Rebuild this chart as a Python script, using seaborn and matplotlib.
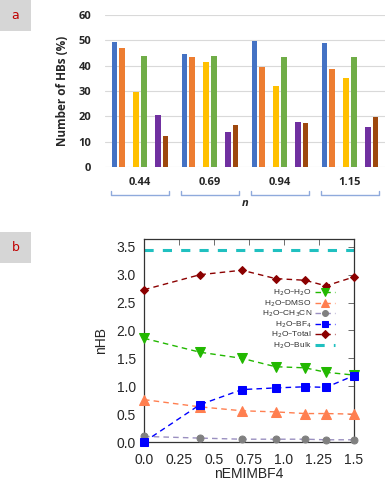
import numpy as np
import pandas as pd
import seaborn as sns
import matplotlib.pyplot as plt
from matplotlib.patches import Rectangle
import matplotlib.transforms as mtransforms

# panel a data
groups = ["0.44", "0.69", "0.94", "1.15"]
series = ["s1", "s2", "s3", "s4", "s5", "s6", "s7", "s8"]
s1 = [49.5, 44.6, 49.8, 48.8]
s2 = [47.1, 43.4, 39.3, 38.6]
s3 = [np.nan, np.nan, np.nan, np.nan]
s4 = [29.7, 41.4, 31.8, 35.3]
s5 = [43.8, 44.0, 43.5, 43.4]
s6 = [np.nan, np.nan, np.nan, np.nan]
s7 = [20.4, 13.7, 17.7, 15.6]
s8 = [12.4, 16.4, 17.3, 19.8]
bar_colors = ["#4472C4", "#ED7D31", "#A5A5A5", "#FFC000", "#70AD47", "#5B9BD5", "#7030A0", "#9E480E"]

# panel b data
n_emim = [0.0, 0.4, 0.7, 0.94, 1.15, 1.3, 1.5]
hb_h2o = [1.86, 1.61, 1.50, 1.35, 1.33, 1.25, 1.20]
hb_dmso = [0.76, 0.63, 0.56, 0.54, 0.51, 0.51, 0.50]
hb_ch3cn = [0.10, 0.07, 0.05, 0.05, 0.05, 0.04, 0.04]
hb_bf4 = [0.0, 0.67, 0.94, 0.97, 0.99, 0.98, 1.19]
hb_total = [2.73, 3.00, 3.08, 2.93, 2.90, 2.80, 2.96]
hb_bulk = [3.45] * len(n_emim)

sns.set_theme(style="white")
plt.rcParams['font.family'] = ['DejaVu Sans']

W, H = 387, 482
fig = plt.figure(figsize=(W / 100, H / 100), dpi=100)

def box(x0, y0, x1, y1):
    return [x0 / W, 1 - y1 / H, (x1 - x0) / W, (y1 - y0) / H]

# ---- panel a ----
ax1 = fig.add_axes(box(105, 15, 385, 167))
vals = [s1, s2, s3, s4, s5, s6, s7, s8]
df = pd.DataFrame({
    "group": [g for s in vals for g in groups],
    "series": [name for name, s in zip(series, vals) for _ in s],
    "value": [v for s in vals for v in s],
})
sns.barplot(data=df, x="group", y="value", hue="series", order=groups,
            hue_order=series, palette=bar_colors, width=0.83, gap=0.2,
            linewidth=0, saturation=1, legend=False, ax=ax1)
ax1.set_ylim(0, 60)
ax1.set_yticks(range(0, 61, 10))
ax1.set_xlim(-0.5, 3.5)
ax1.grid(axis="y", color="#d9d9d9", linewidth=0.8)
ax1.set_axisbelow(True)
for sp in ax1.spines.values():
    sp.set_visible(False)
ax1.tick_params(axis="both", length=0, labelsize=8)
ax1.tick_params(axis="x", pad=7)
ax1.tick_params(axis="y", pad=10)
for lab in ax1.get_xticklabels() + ax1.get_yticklabels():
    lab.set_fontweight("bold")
    lab.set_family("Open Sans")
ax1.set_xlabel("")
ax1.set_ylabel("Number of HBs (%)", fontsize=8.5, fontweight="bold",
               family="Open Sans", labelpad=7)

trans = mtransforms.blended_transform_factory(ax1.transData, ax1.transAxes)
yb = -(195 - 167) / 152
yt = -(191 - 167) / 152
for i in range(len(groups)):
    xl, xr = i - 0.41, i + 0.41
    ax1.plot([xl, xl, xr, xr], [yt, yb, yb, yt], color="#8FAADC",
             linewidth=1.0, transform=trans, clip_on=False)
fig.text(245 / W, 1 - 204 / H, "n", fontsize=8, fontweight="bold",
         fontstyle="italic", family="Open Sans", ha="center", va="center")

# ---- panel b ----
ax2 = fig.add_axes(box(144, 239, 354, 442))
dash = (0, (4, 3))
specs = [
    ("H$_2$O\u2013H$_2$O", hb_h2o, "#22B800", "v", 7),
    ("H$_2$O\u2013DMSO", hb_dmso, "#FF7F50", "^", 7),
    ("H$_2$O\u2013CH$_3$CN", hb_ch3cn, "#808080", "o", 5),
    ("H$_2$O\u2013BF$_4$", hb_bf4, "#0000FF", "s", 5.5),
    ("H$_2$O\u2013Total", hb_total, "#8B0000", "D", 4.5),
]
for label, y, c, m, ms in specs:
    lc = "#9A8FC0" if m == "o" else c
    sns.lineplot(x=n_emim, y=y, ax=ax2, color=lc, linestyle=dash,
                 linewidth=1.0, marker=m, markersize=ms,
                 markerfacecolor=c, markeredgecolor=c, label=label,
                 clip_on=False, zorder=3)
sns.lineplot(x=n_emim, y=hb_bulk, ax=ax2, color="#20C0C0",
             linestyle=(0, (3, 3)), linewidth=2.2, label="H$_2$O\u2013Bulk")

ax2.set_xlim(0, 1.5)
ax2.set_ylim(0, 3.64)
ax2.set_xticks([0, 0.25, 0.5, 0.75, 1.0, 1.25, 1.5])
ax2.set_xticklabels(["0.0", "0.25", "0.5", "0.75", "1.0", "1.25", "1.5"])
ax2.set_yticks(np.arange(0, 3.51, 0.5))
ax2.set_yticklabels([f"{v:.1f}" for v in np.arange(0, 3.51, 0.5)])
ax2.tick_params(direction="in", length=4, width=0.6, top=True, right=True,
                labelsize=10, color="#555555")
ax2.tick_params(axis="x", pad=8)
ax2.tick_params(axis="y", pad=6)
for lab in ax2.get_xticklabels() + ax2.get_yticklabels():
    lab.set_family("Liberation Sans")
for sp in ax2.spines.values():
    sp.set_color("#333333")
    sp.set_linewidth(0.9)
ax2.set_xlabel("nEMIMBF4", fontsize=10, family="Liberation Sans", labelpad=0)
ax2.set_ylabel("nHB", fontsize=10, family="Liberation Sans", labelpad=6)
leg = ax2.legend(loc="upper right", bbox_to_anchor=(0.93, 0.78),
                 markerfirst=False, frameon=False,
                 prop={"family": "Liberation Sans", "size": 6},
                 handlelength=2.4, labelspacing=0.0, handletextpad=0.4,
                 handleheight=0.5, markerscale=0.85, borderpad=0)
for t in leg.get_texts():
    t.set_color("#333333")

# panel labels
for (y0, txt) in [(0, "a"), (232, "b")]:
    fig.patches.append(Rectangle((0, 1 - (y0 + 31) / H), 31 / W, 31 / H,
                                 transform=fig.transFigure,
                                 facecolor="#D6D6D6", edgecolor="none"))
    fig.text(15.5 / W, 1 - (y0 + 15.5) / H, txt, color="#C00000",
             fontsize=9, ha="center", va="center")

fig.savefig("out.png", dpi=100)
